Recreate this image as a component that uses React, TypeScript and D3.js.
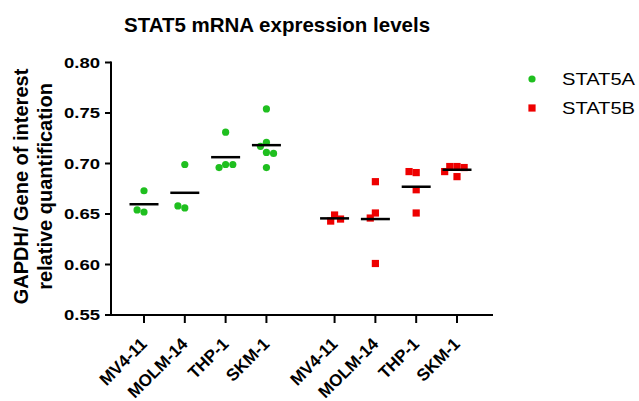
import React from "react";
import * as d3 from "d3";

const categories = ["MV4-11", "MOLM-14", "THP-1", "SKM-1"];
const seriesNames = ["STAT5A", "STAT5B"];
const stat5a: number[][] = [
  [0.673, 0.652, 0.654],
  [0.699, 0.656, 0.658],
  [0.731, 0.699, 0.696, 0.699],
  [0.754, 0.721, 0.717, 0.711, 0.71, 0.696],
];
const stat5b: number[][] = [
  [0.649, 0.643, 0.645],
  [0.682, 0.651, 0.646, 0.601],
  [0.691, 0.692, 0.674, 0.651],
  [0.697, 0.697, 0.696, 0.692, 0.687],
];
const yTicks = [0.55, 0.6, 0.65, 0.7, 0.75, 0.8];
const title = "STAT5 mRNA expression levels";
const yTitle = ["GAPDH/ Gene of interest", "relative quantification"];

const W = 639;
const H = 401;
const GAP = 0.67;
const colors = ["#1fbf1f", "#ee0000"];
const FONT = "'Liberation Sans', Arial, sans-serif";

const y = d3.scaleLinear().domain([0.55, 0.8]).range([315, 62.5]);
const x = d3.scaleLinear().domain([0, 7 + GAP]).range([144, 457]);
const slot = (g: number, i: number) => g * 4 + i + g * GAP;

function swarm(vals: number[], r: number) {
  const placed: { x: number; y: number }[] = [];
  for (const v of vals) {
    const py = y(v);
    const ints: [number, number][] = [];
    for (const p of placed) {
      const dy = Math.abs(p.y - py);
      if (dy < 2 * r) {
        const w = Math.sqrt(4 * r * r - dy * dy);
        ints.push([p.x - w, p.x + w]);
      }
    }
    const cands = [0];
    ints.forEach(([a, b]) => cands.push(a, b));
    cands.sort((a, b) => Math.abs(a) - Math.abs(b));
    let best = 0;
    for (const c of cands) {
      if (!ints.some(([a, b]) => c > a + 1e-6 && c < b - 1e-6)) {
        best = c;
        break;
      }
    }
    placed.push({ x: best, y: py });
  }
  return placed;
}

export default function App() {
  const series = [stat5a, stat5b];
  const R = 3.6;
  return (
    <svg
      width={W}
      height={H}
      style={{ position: "absolute", left: 0, top: 0, background: "#fff" }}
      fontFamily={FONT}
    >
      <rect width={W} height={H} fill="#fff" />
      <text x={277} y={32} textAnchor="middle" fontSize={20.5} fontWeight="bold">
        {title}
      </text>
      {yTitle.map((t, i) => (
        <text
          key={t}
          transform={`translate(${28 + i * 24},186.5) rotate(-90)`}
          textAnchor="middle"
          fontSize={20}
          fontWeight="bold"
        >
          {t}
        </text>
      ))}
      {/* y axis */}
      <line x1={111} x2={111} y1={y(0.8) - 1} y2={316} stroke="#000" strokeWidth={2} />
      {yTicks.map((t) => (
        <g key={t}>
          <line x1={105} x2={111} y1={y(t)} y2={y(t)} stroke="#000" strokeWidth={2} />
          <text
            x={100}
            y={y(t)}
            dy="0.36em"
            textAnchor="end"
            fontSize={15}
            fontWeight="bold"
            textLength={36}
            lengthAdjust="spacingAndGlyphs"
          >
            {d3.format(".2f")(t)}
          </text>
        </g>
      ))}
      {/* x axis */}
      <line x1={110} x2={493} y1={315} y2={315} stroke="#000" strokeWidth={2} />
      {series.map((s, g) =>
        categories.map((c, i) => {
          const cx = x(slot(g, i));
          return (
            <g key={`${g}-${c}`}>
              <line x1={cx} x2={cx} y1={315} y2={323} stroke="#000" strokeWidth={2} />
              <text
                transform={`translate(${cx + 4},${345}) rotate(-45)`}
                textAnchor="end"
                fontSize={17}
                fontWeight="bold"
              >
                {c}
              </text>
            </g>
          );
        })
      )}
      {/* points */}
      {series.map((s, g) =>
        s.map((vals, i) => {
          const cx = x(slot(g, i));
          const pts = swarm(vals, R);
          const mean = d3.mean(vals) as number;
          return (
            <g key={`p${g}-${i}`}>
              {pts.map((p, k) =>
                g === 0 ? (
                  <circle key={k} cx={cx + p.x} cy={p.y} r={R} fill={colors[0]} />
                ) : (
                  <rect key={k} x={cx + p.x - R} y={p.y - R} width={2 * R} height={2 * R} fill={colors[1]} />
                )
              )}
              <line x1={cx - 14.5} x2={cx + 14.5} y1={y(mean)} y2={y(mean)} stroke="#000" strokeWidth={2.5} />
            </g>
          );
        })
      )}
      {/* legend */}
      {seriesNames.map((n, i) => (
        <g key={n} transform={`translate(532,${79 + i * 29})`}>
          {i === 0 ? (
            <circle r={3.6} fill={colors[0]} />
          ) : (
            <rect x={-3.6} y={-3.6} width={7.2} height={7.2} fill={colors[1]} />
          )}
          <text x={30} y={0} dy="0.36em" fontSize={16.5} textLength={73} lengthAdjust="spacingAndGlyphs">
            {n}
          </text>
        </g>
      ))}
    </svg>
  );
}
